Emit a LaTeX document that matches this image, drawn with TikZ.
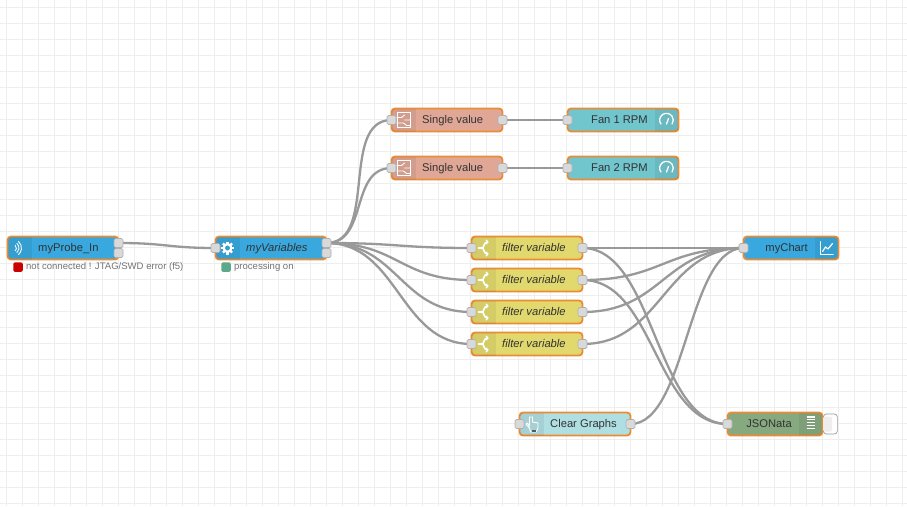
\documentclass[tikz,border=0pt]{standalone}
\usepackage{fontspec}
\setmainfont{Liberation Sans}
\usetikzlibrary{calc,backgrounds}
\definecolor{cwire}{RGB}{153,153,153}
\definecolor{cgrid}{RGB}{238,238,238}
\definecolor{cselect}{RGB}{235,140,50}
\definecolor{cblue}{RGB}{56,168,222}
\definecolor{csalmon}{RGB}{224,167,150}
\definecolor{cteal}{RGB}{113,197,205}
\definecolor{cswitch}{RGB}{226,217,110}
\definecolor{cinject}{RGB}{176,223,227}
\definecolor{cdebug}{RGB}{135,169,128}
\definecolor{cport}{RGB}{217,217,217}
\definecolor{cportline}{RGB}{175,175,175}
\definecolor{cok}{RGB}{91,168,138}
\definecolor{cbad}{RGB}{204,0,0}
\tikzset{
  flowbody/.style={draw=cselect, line width=1.8pt, rounded corners=3.5pt, minimum height=23pt,
                   inner sep=0pt, outer sep=0pt},
  flowtext/.style={text=black!80, inner sep=0pt, font=\fontsize{11.2}{13}\selectfont},
  porthole/.style={draw=cportline, fill=cport, line width=.7pt, rounded corners=1.5pt,
                   minimum size=9pt, inner sep=0pt, outer sep=0pt},
  wire/.style={draw=cwire, line width=2.3pt},
  statbox/.style={rounded corners=1.5pt, minimum size=9.5pt, inner sep=0pt},
  stattext/.style={text=black!55, inner sep=0pt, font=\fontsize{9.55}{11}\selectfont},
  iconline/.style={draw=white, line width=1pt, line cap=round, line join=round},
}
% name, centre, width, colour, text
\newcommand{\nodeL}[5]{
  \node[flowbody, fill=#4, minimum width=#3] (#1) at (#2) {};
  \begin{scope}
    \clip[rounded corners=3.5pt] (#1.north west) rectangle (#1.south east);
    \fill[black, opacity=.06] (#1.north west) rectangle ([xshift=24pt]#1.south west);
  \end{scope}
  \node[flowtext, anchor=base west] (#1Text) at ([xshift=30.5pt,yshift=-3.8pt]#1.west) {#5};
}
\newcommand{\nodeR}[5]{
  \node[flowbody, fill=#4, minimum width=#3] (#1) at (#2) {};
  \begin{scope}
    \clip[rounded corners=3.5pt] (#1.north west) rectangle (#1.south east);
    \fill[black, opacity=.06] (#1.north east) rectangle ([xshift=-24pt]#1.south east);
  \end{scope}
  \node[flowtext, anchor=base east] (#1Text) at ([xshift=-30.5pt,yshift=-3.8pt]#1.east) {#5};
}
% from, to, control distance
\newcommand{\wireTo}[3]{
  \draw[wire] (#1.center) .. controls ($(#1.center)+(#3,0)$) and ($(#2.center)-(#3,0)$) .. (#2.center);
}
\newcommand{\iconValue}[1]{
  \begin{scope}[shift={(#1.west)}, xshift=12pt]
    \draw[iconline, line width=.9pt] (-6.5,-7.5) rectangle (6.5,7.5);
    \draw[iconline, line width=.9pt] (-6.5,-2.5) -- (-2,-2.5) -- (1,-5) (1,0) -- (6.5,0) (-6.5,3) -- (0,3) -- (3,5.5) -- (6.5,5.5);
  \end{scope}
}
\newcommand{\iconSwitch}[1]{
  \begin{scope}[shift={(#1.west)}, xshift=12pt]
    \draw[iconline, line width=1.6pt] (-5,0) -- (-2,0) .. controls (1,0) and (0,-6) .. (4,-6);
    \draw[iconline, line width=1.6pt] (-2,0) .. controls (1,0) and (0,6) .. (4,6);
    \draw[iconline, line width=1.1pt] (2.5,-8) -- (4.5,-6) -- (2.5,-4) (2.5,4) -- (4.5,6) -- (2.5,8);
  \end{scope}
}
\newcommand{\iconGauge}[1]{
  \begin{scope}[shift={(#1.east)}, xshift=-12pt]
    \draw[iconline, line width=1.3pt] (-5.6,4) arc[start angle=145, end angle=395, radius=6.8];
    \draw[iconline, line width=1.3pt] (0,4) -- (2,-1.5);
  \end{scope}
}
\begin{document}
\begin{tikzpicture}[x=1pt,y=-1pt]
  \useasboundingbox (0,0) rectangle (907,506);

  \nodeL{probeIn}{63,248}{111}{cblue}{myProbe\_In}
  \nodeL{myVars}{271,248}{111}{cblue}{\itshape myVariables}
  \nodeL{singleA}{447,120}{111}{csalmon}{Single value}
  \nodeL{singleB}{447,168}{111}{csalmon}{Single value}
  \nodeR{fanA}{623,120}{111}{cteal}{Fan 1 RPM}
  \nodeR{fanB}{623,168}{111}{cteal}{Fan 2 RPM}
  \foreach \name/\ypos in {filterA/248,filterB/280,filterC/312,filterD/344}{
    \nodeL{\name}{527,\ypos}{111}{cswitch}{\itshape filter variable}
    \iconSwitch{\name}
    \node[porthole] (\name In) at (\name.west) {};
    \node[porthole] (\name Out) at (\name.east) {};
  }
  \nodeR{myChart}{791,248}{95}{cblue}{myChart}
  \nodeL{clearBtn}{575,424}{111}{cinject}{Clear Graphs}
  \nodeR{jsonDbg}{775,424}{95}{cdebug}{JSONata}

  % output button of the debug node
  \node[draw=cwire, fill=white, line width=.7pt, rounded corners=3pt, minimum width=14pt, minimum height=20pt, inner sep=0pt, anchor=west] (jsonBtn) at ([xshift=.5pt]jsonDbg.east) {};
  \node[fill=cgrid, rounded corners=1.5pt, minimum width=9pt, minimum height=15pt, inner sep=0pt, anchor=west] (jsonFace) at (jsonBtn.west) {};

  % ports
  \node[porthole] (probeOutA) at ([yshift=5pt]probeIn.east) {};
  \node[porthole] (probeOutB) at ([yshift=-5pt]probeIn.east) {};
  \node[porthole] (myVarsIn) at (myVars.west) {};
  \node[porthole] (myVarsOutA) at ([yshift=5pt]myVars.east) {};
  \node[porthole] (myVarsOutB) at ([yshift=-5pt]myVars.east) {};
  \node[porthole] (singleAIn) at (singleA.west) {};
  \node[porthole] (singleAOut) at (singleA.east) {};
  \node[porthole] (singleBIn) at (singleB.west) {};
  \node[porthole] (singleBOut) at (singleB.east) {};
  \node[porthole] (fanAIn) at (fanA.west) {};
  \node[porthole] (fanBIn) at (fanB.west) {};
  \node[porthole] (myChartIn) at (myChart.west) {};
  \node[porthole] (clearBtnTab) at (clearBtn.west) {};
  \node[porthole] (clearBtnOut) at (clearBtn.east) {};
  \node[porthole] (jsonDbgIn) at (jsonDbg.west) {};

  % status lines
  \node[statbox, fill=cbad] (probeStat) at (18,267) {};
  \node[stattext, anchor=west] (probeStatText) at ([xshift=3pt]probeStat.east) {not connected ! JTAG/SWD error (f5)};
  \node[statbox, fill=cok] (myVarsStat) at (226,267) {};
  \node[stattext, anchor=west] (myVarsStatText) at ([xshift=3pt]myVarsStat.east) {processing on};

  % icons
  \begin{scope}[shift={(probeIn.west)}, xshift=10.5pt]
    \foreach \rad in {3.5,6,8.5}
      \draw[iconline, line width=.9pt] (-5,0) ++(-50:\rad) arc[start angle=-50, end angle=50, radius=\rad];
  \end{scope}
  \begin{scope}[shift={(myVars.west)}, xshift=12pt]
    \foreach \ang in {0,45,...,315}
      \draw[draw=white, line width=2.4pt] (\ang:3) -- (\ang:6.5);
    \draw[draw=white, line width=2.2pt] (0,0) circle (3.8pt);
  \end{scope}
  \iconValue{singleA}
  \iconValue{singleB}
  \iconGauge{fanA}
  \iconGauge{fanB}
  \begin{scope}[shift={(myChart.east)}, xshift=-12pt]
    \draw[iconline] (-6.5,-6.5) -- (-6.5,6.5) -- (6.5,6.5);
    \draw[iconline, line width=1.2pt] (-4,3.5) -- (-1,-1) -- (1.5,1) -- (6,-4.5);
  \end{scope}
  \begin{scope}[shift={(clearBtn.west)}, xshift=12pt]
    \draw[iconline, line width=.9pt] (-2,2) -- (-2,-7) -- (1,-7) -- (1,-2) -- (6.5,-1) -- (6.5,4) -- (4.5,8) -- (-1,8) -- (-2,4) -- (-5.5,0) -- (-4,-1) -- cycle;
    \fill[black!65] (0,5.5) rectangle (4,8);
  \end{scope}
  \begin{scope}[shift={(jsonDbg.east)}, xshift=-12pt]
    \foreach \ypos in {-7,-4.2,...,7}
      \draw[draw=white, line width=1.1pt] (-4,\ypos) -- (4,\ypos);
  \end{scope}

  \begin{scope}[on background layer]
    \foreach \xpos in {6,22,...,902}
      \draw[cgrid, line width=1pt] (\xpos,0) -- (\xpos,506);
    \foreach \ypos in {7,23,...,503}
      \draw[cgrid, line width=1pt] (0,\ypos) -- (907,\ypos);
    \wireTo{probeOutA}{myVarsIn}{48}
    \wireTo{myVarsOutA}{singleAIn}{52}
    \wireTo{myVarsOutA}{singleBIn}{42}
    \wireTo{myVarsOutA}{filterAIn}{72}
    \wireTo{myVarsOutA}{filterBIn}{72}
    \wireTo{myVarsOutA}{filterCIn}{72}
    \wireTo{myVarsOutA}{filterDIn}{72}
    \wireTo{singleAOut}{fanAIn}{32}
    \wireTo{singleBOut}{fanBIn}{32}
    \wireTo{filterAOut}{myChartIn}{80}
    \wireTo{filterBOut}{myChartIn}{80}
    \wireTo{filterCOut}{myChartIn}{80}
    \wireTo{filterDOut}{myChartIn}{80}
    \wireTo{filterAOut}{jsonDbgIn}{72}
    \wireTo{filterBOut}{jsonDbgIn}{72}
    \wireTo{clearBtnOut}{myChartIn}{56}
  \end{scope}
\end{tikzpicture}
\end{document}
